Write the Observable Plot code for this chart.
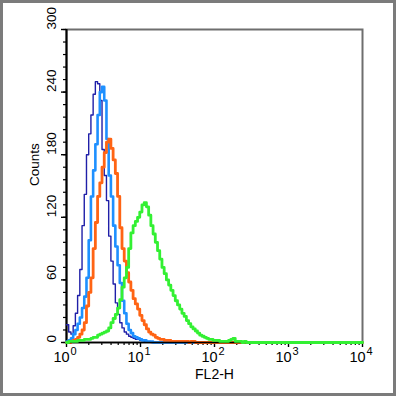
<!DOCTYPE html>
<html><head><meta charset="utf-8">
<script src="https://cdn.jsdelivr.net/npm/d3@7"></script>
<script src="https://cdn.jsdelivr.net/npm/@observablehq/plot@0.6"></script>
<style>
body{margin:0;background:#fff}
#chart svg{display:block;outline:3px solid #7b7b7b;outline-offset:-3px}
</style></head><body><div id="chart"></div>
<script>
// channel width in decades of FL2-H
const binWidth = 0.03;
const seriesNames = ["dark blue", "light blue", "orange", "green"];
const seriesColors = ["#1f1fa8", "#1e90ff", "#ff6414", "#33f033"];
const seriesWidths = [1.4, 2.6, 2.8, 2.8];
const darkBlue = [17,10,8,16,28,45,70,112,142,180,200,218,238,250,248,232,185,160,136,102,78,56,38,27,19,14,10,8,6,5,4,3,3,2,2,1,1,1,0];
const lightBlue = [1,2,4,8,12,18,24,33,44,62,98,140,165,190,218,240,245,232,195,160,140,112,92,74,57,40,28,18,12,9,6,5,4,3,2,2,1,1,1,0];
const orange = [0,0,1,2,3,5,8,12,19,35,48,62,90,115,140,153,168,182,192,195,186,175,162,140,110,90,78,67,58,50,42,37,32,26,21,17,13,10,8,7,5,4,3,3,2,2,2,1,1,1,1,1,1,1,1,0,1,1,0,0];
const green = [0,1,1,1,1,2,2,2,3,3,3,4,5,5,7,8,9,10,11,14,19,23,27,33,41,53,62,72,90,105,112,116,120,125,132,134,130,122,112,104,96,88,80,72,66,60,55,50,45,40,36,32,28,25,21,18,15,13,11,9,7,6,5,4,3,3,2,2,2,1,1,1,1,2,3,4,1,1,1,0,1,0];
const seriesValues = [darkBlue, lightBlue, orange, green];
const xMax = 10000;
const xTicksMajor = [1, 10, 100, 1000, 10000];
const xTickBase = "10";
const xTickExponents = ["0", "1", "2", "3", "4"];
const yTicksMajor = [0, 60, 120, 180, 240, 300];
const yTickLabels = ["0", "60", "120", "180", "240", "300"];
const yTickMinorStep = 12;
const xLabel = "FL2-H";
const yLabel = "Counts";

const xMinor = [];
for (let d = 1; d < xMax; d *= 10) for (let k = 2; k <= 9; k++) xMinor.push(d * k);
const yMinor = d3.range(0, 300 + 1, yTickMinorStep);

const rows = [];
seriesNames.forEach((s, j) => {
  seriesValues[j].forEach((v, i) => rows.push({s, x: Math.pow(10, i * binWidth), y: v}));
  rows.push({s, x: xMax, y: 0});
});

const lines = seriesNames.map((s, j) => Plot.line(rows.filter(r => r.s === s), {
  x: "x", y: "y", curve: "step-after", stroke: seriesColors[j], strokeWidth: seriesWidths[j]
}));

const chart = Plot.plot({
  width: 396, height: 396,
  marginLeft: 66, marginRight: 34, marginTop: 29, marginBottom: 54,
  style: {fontFamily: "Liberation Sans, Arial, sans-serif", fontSize: "13px", color: "#000", background: "#fff"},
  x: {type: "log", domain: [1, xMax], label: null},
  y: {domain: [0, 300], label: null},
  marks: [
    Plot.frame({stroke: "#6e6e6e", strokeWidth: 2}),
    Plot.axisY({ticks: yMinor, tickSize: 3, tickFormat: () => "", label: null, strokeWidth: 1.2}),
    Plot.axisY({ticks: yTicksMajor, tickSize: 5, tickFormat: () => "", label: null, strokeWidth: 1.4}),
    Plot.text(yTicksMajor, {y: d => d, text: (d, i) => yTickLabels[i], frameAnchor: "left", dx: -15, rotate: -90, fontSize: 13.5, fill: "#000"}),
    Plot.axisX({ticks: xMinor, tickSize: 3, tickFormat: () => "", label: null, strokeWidth: 1.2}),
    Plot.axisX({ticks: xTicksMajor, tickSize: 5, tickFormat: () => "", label: null, strokeWidth: 1.4}),
    Plot.text(xTicksMajor, {x: d => d, text: () => xTickBase, frameAnchor: "bottom", dx: -5, dy: 19, fontSize: 14.5, fill: "#000"}),
    Plot.text(xTicksMajor, {x: d => d, text: (d, i) => xTickExponents[i], frameAnchor: "bottom", dx: 7, dy: 12, fontSize: 11, fill: "#000"}),
    Plot.ruleX([1], {stroke: "#000", strokeWidth: 2}),
    lines[0], lines[1], lines[2],
    Plot.ruleY([0], {stroke: "#000", strokeWidth: 1.5}),
    lines[3],
    Plot.text([xLabel], {frameAnchor: "bottom", dy: 36, fontSize: 14, fill: "#000"}),
    Plot.text([yLabel], {frameAnchor: "left", dx: -32, rotate: -90, fontSize: 13.5, fill: "#000"})
  ]
});
document.getElementById("chart").append(chart);
</script></body></html>
